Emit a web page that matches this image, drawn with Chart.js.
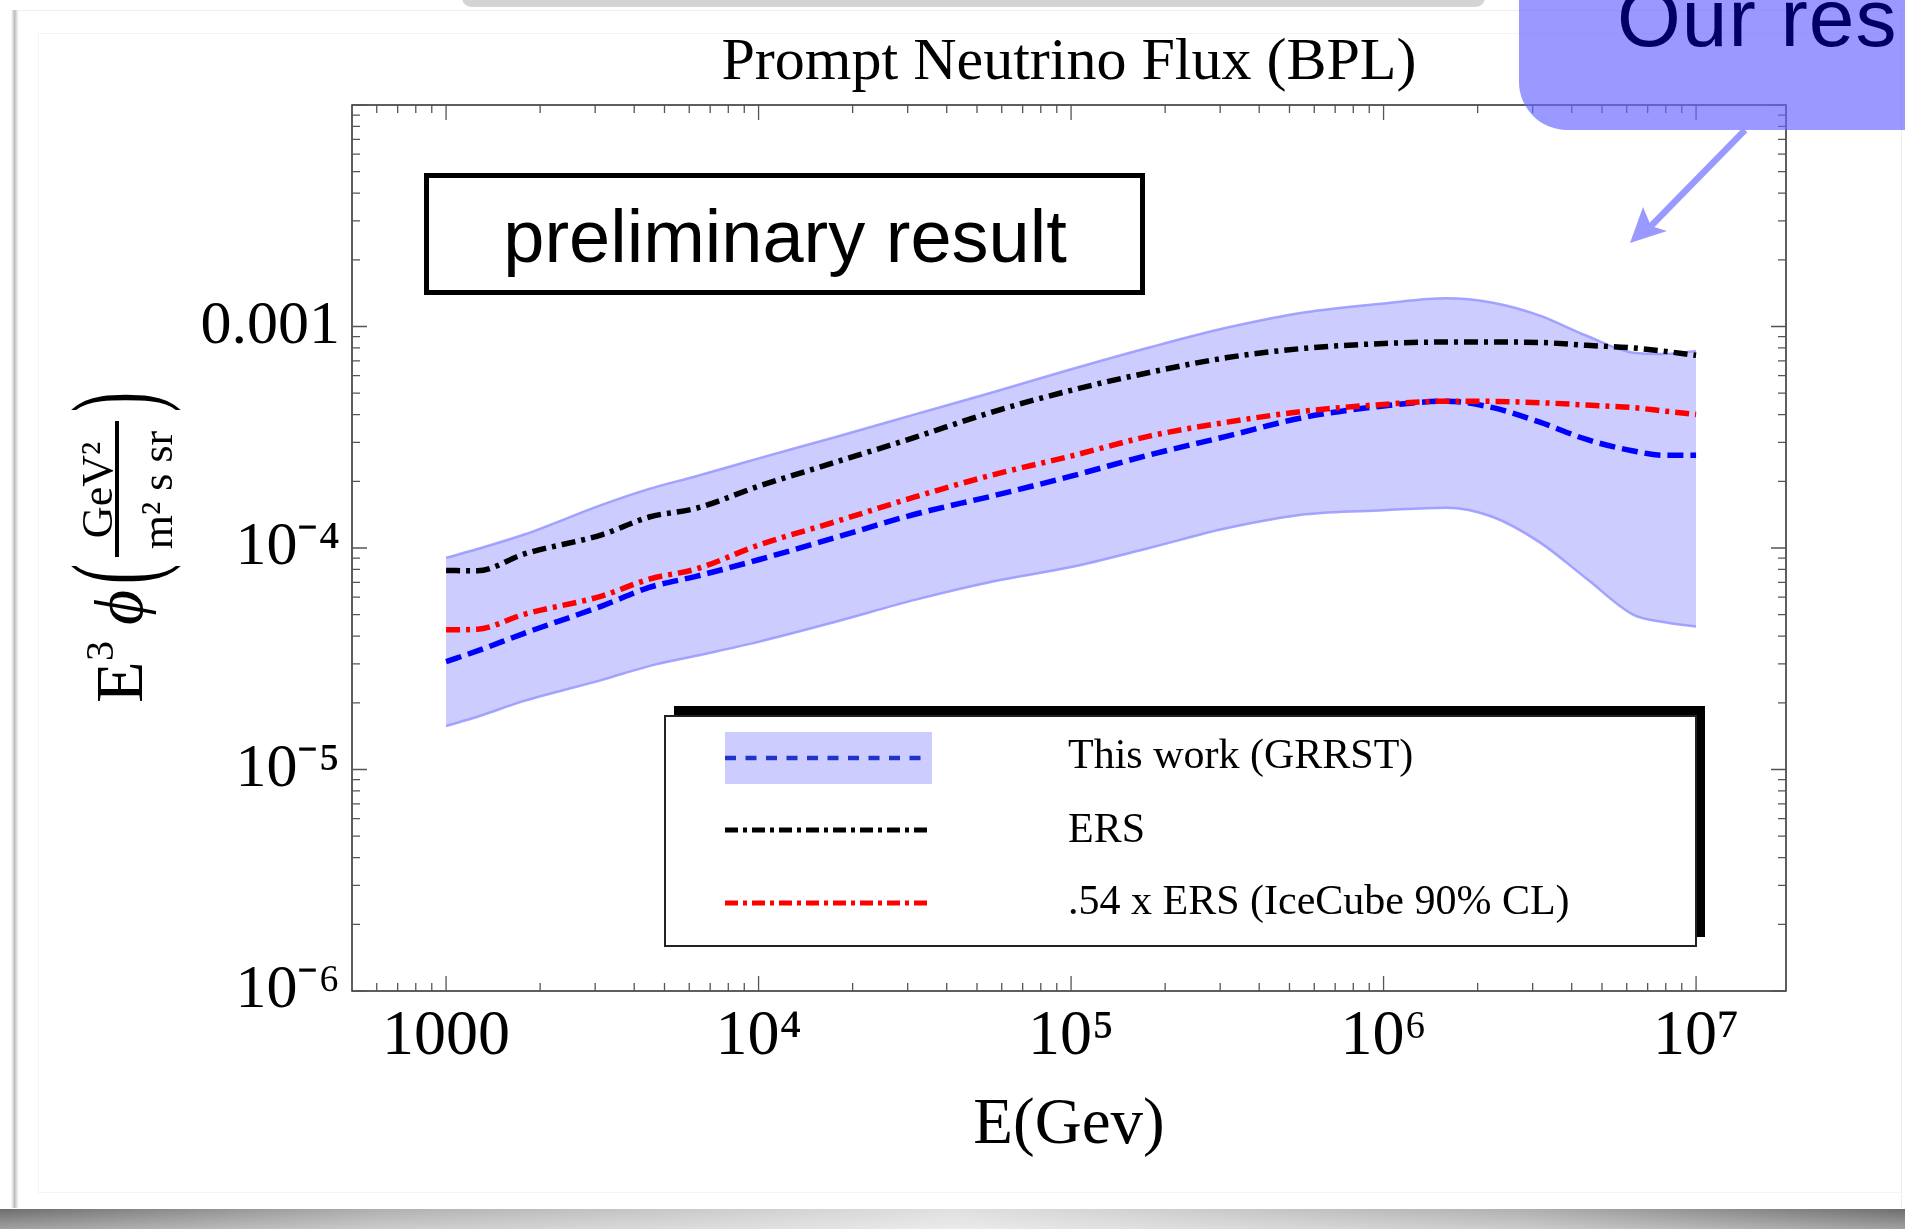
<!DOCTYPE html>
<html>
<head>
<meta charset="utf-8">
<script src="https://cdn.jsdelivr.net/npm/chart.js@4.4.0/dist/chart.umd.min.js"></script>
<style>
html,body{margin:0;padding:0;background:#fff;width:1905px;height:1229px;overflow:hidden;position:relative}
#topbar{position:absolute;left:462px;top:-12px;width:1023px;height:19px;background:#d4d4d4;border-radius:12px}
#cardTop{position:absolute;left:16px;top:10px;width:1889px;height:1px;background:#efefef}
#cardLeft{position:absolute;left:11px;top:10px;width:8px;height:1198px;background:linear-gradient(to right,#ffffff 0%,#bdbdbd 45%,#e6e6e6 75%,#ffffff 100%)}
#cardRight{position:absolute;left:1901px;top:10px;width:1px;height:1198px;background:#eeeeee}
#inner{position:absolute;left:38px;top:33px;width:1864px;height:1158px;border:1px solid #f4f4f4;border-right:none}
#bottomband{position:absolute;left:0;top:1209px;width:1905px;height:20px;
  background:linear-gradient(to bottom,rgba(255,255,255,0) 0%,rgba(255,255,255,0.35) 100%),
             linear-gradient(to right,#6e6e6e 0%,#b0b0b0 20%,#e0e0e0 50%,#b0b0b0 80%,#6e6e6e 100%)}
#wrap{position:absolute;left:0;top:0;width:1905px;height:1229px}
#callout{position:absolute;left:1519px;top:-60px;width:440px;height:190px;background:rgba(102,102,255,0.667);border-radius:48px}
#calloutText{position:absolute;left:1617px;top:-23px;font-family:"Liberation Sans",Arial,sans-serif;font-size:82px;line-height:82px;color:#000066;white-space:nowrap;letter-spacing:1px}
#arrow{position:absolute;left:0;top:0}
</style>
</head>
<body>
<div id="topbar"></div>
<div id="cardTop"></div>
<div id="cardLeft"></div>
<div id="cardRight"></div>
<div id="inner"></div>
<div id="bottomband"></div>
<div id="wrap"><canvas id="c"></canvas></div>
<div id="callout"></div>
<div id="calloutText">Our res</div>
<svg id="arrow" width="1905" height="1229">
  <line x1="1745" y1="130" x2="1651" y2="226" stroke="#9999ff" stroke-width="6.5"/>
  <polygon points="1630,243 1643,207 1651,226 1667,231" fill="#9999ff"/>
</svg>
<script>
// ---- data ----
const energies = [1000, 1259, 1778, 3162, 4467, 6310, 10000, 17783, 31623, 56234, 100000, 177828, 316228, 562341, 1000000, 1584893, 2238721, 3162278, 4466836, 6309573, 7943282, 10000000];
const bandUpper = [9.02e-5, 9.89e-5, 1.15e-4, 1.57e-4, 1.85e-4, 2.11e-4, 2.54e-4, 3.18e-4, 4.01e-4, 5.05e-4, 6.41e-4, 8.04e-4, 9.89e-4, 1.16e-3, 1.27e-3, 1.34e-3, 1.28e-3, 1.12e-3, 9.08e-4, 7.62e-4, 7.52e-4, 7.76e-4];
const bandLower = [1.57e-5, 1.73e-5, 2.04e-5, 2.54e-5, 2.93e-5, 3.26e-5, 3.77e-5, 4.66e-5, 5.83e-5, 7.06e-5, 8.20e-5, 1.00e-4, 1.23e-4, 1.42e-4, 1.48e-4, 1.52e-4, 1.38e-4, 1.06e-4, 7.26e-5, 4.99e-5, 4.62e-5, 4.42e-5];
const grrst = [3.07e-5, 3.43e-5, 4.12e-5, 5.48e-5, 6.64e-5, 7.45e-5, 8.85e-5, 1.12e-4, 1.42e-4, 1.72e-4, 2.11e-4, 2.63e-4, 3.20e-4, 3.90e-4, 4.38e-4, 4.60e-4, 4.30e-4, 3.70e-4, 3.09e-4, 2.74e-4, 2.62e-4, 2.62e-4];
const ers = [7.92e-5, 7.89e-5, 9.40e-5, 1.15e-4, 1.38e-4, 1.51e-4, 1.90e-4, 2.45e-4, 3.16e-4, 4.12e-4, 5.15e-4, 6.20e-4, 7.24e-4, 7.98e-4, 8.38e-4, 8.51e-4, 8.51e-4, 8.47e-4, 8.22e-4, 8.00e-4, 7.73e-4, 7.41e-4];
const ersIceCube = [4.27e-5, 4.30e-5, 5.02e-5, 6.08e-5, 7.24e-5, 8.04e-5, 1.03e-4, 1.32e-4, 1.70e-4, 2.14e-4, 2.60e-4, 3.20e-4, 3.70e-4, 4.15e-4, 4.45e-4, 4.60e-4, 4.59e-4, 4.53e-4, 4.42e-4, 4.30e-4, 4.15e-4, 4.01e-4];

const xTickValues = [1000, 10000, 100000, 1000000, 10000000];
const xTickLabels = ['1000', '10\u2074', '10\u2075', '10\u2076', '10\u2077'];
const yTickValues = [1e-6, 1e-5, 1e-4, 1e-3];
const yTickLabels = ['10\u207B\u2076', '10\u207B\u2075', '10\u207B\u2074', '0.001'];

const legendLabels = ['This work (GRRST)', 'ERS', '.54 x ERS (IceCube 90% CL)'];
const chartTitle = 'Prompt Neutrino Flux (BPL)';
const xTitle = 'E(Gev)';
const noteText = 'preliminary result';

const X_MIN = 500, X_MAX = 1.94e7, Y_MIN = 1e-6, Y_MAX = 1e-2;
const SERIF = '"Liberation Serif", "Times New Roman", serif';
const SANS = '"Liberation Sans", Arial, sans-serif';

const pts = arr => energies.map((e, i) => ({x: e, y: arr[i]}));

function minorTicks(min, max) {
  const out = [];
  for (let d = Math.floor(Math.log10(min)); d <= Math.ceil(Math.log10(max)); d++) {
    for (let m = 1; m <= 9; m++) {
      const v = m * Math.pow(10, d);
      if (v >= min * 0.999 && v <= max * 1.001) out.push({v, major: m === 1});
    }
  }
  return out;
}

const decor = {
  id: 'decor',
  afterDraw(chart) {
    const ctx = chart.ctx;
    const {left, right, top, bottom} = chart.chartArea;
    const xs = chart.scales.x, ys = chart.scales.y;
    ctx.save();
    // frame
    ctx.strokeStyle = '#2a2a2a';
    ctx.lineWidth = 1.5;
    ctx.strokeRect(left, top, right - left, bottom - top);
    // inward ticks
    ctx.strokeStyle = '#555';
    ctx.lineWidth = 1.3;
    ctx.beginPath();
    minorTicks(X_MIN, X_MAX).forEach(t => {
      const px = xs.getPixelForValue(t.v);
      if (px < left + 1 || px > right - 1) return;
      const L = t.major ? 15 : 8;
      ctx.moveTo(px, bottom); ctx.lineTo(px, bottom - L);
      ctx.moveTo(px, top); ctx.lineTo(px, top + L);
    });
    minorTicks(Y_MIN, Y_MAX).forEach(t => {
      const py = ys.getPixelForValue(t.v);
      if (py < top - 1 || py > bottom + 1) return;
      const L = t.major ? 15 : 8;
      ctx.moveTo(left, py); ctx.lineTo(left + L, py);
      ctx.moveTo(right, py); ctx.lineTo(right - L, py);
    });
    ctx.stroke();

    // "preliminary result" box
    ctx.lineWidth = 5;
    ctx.strokeStyle = '#000';
    ctx.strokeRect(426.5, 175.5, 716, 117);
    ctx.fillStyle = '#000';
    ctx.font = '74px ' + SANS;
    ctx.textAlign = 'center';
    ctx.textBaseline = 'alphabetic';
    ctx.fillText(noteText, 785, 262);

    // legend
    ctx.fillStyle = '#000';
    ctx.fillRect(674, 706, 1031, 231);
    ctx.fillStyle = '#fff';
    ctx.fillRect(665, 716, 1031, 230);
    ctx.lineWidth = 2;
    ctx.strokeStyle = '#222';
    ctx.strokeRect(665, 716, 1031, 230);
    ctx.fillStyle = 'rgb(204,204,255)';
    ctx.fillRect(725, 732, 207, 52);
    const legLines = [
      {y: 758, color: '#2233cc', dash: [11, 9.5], w: 4.5},
      {y: 830, color: '#000', dash: [13, 5, 4, 5], w: 5},
      {y: 903, color: '#ff0000', dash: [13, 5, 4, 5], w: 5}
    ];
    legLines.forEach(l => {
      ctx.beginPath();
      ctx.setLineDash(l.dash);
      ctx.lineWidth = l.w;
      ctx.strokeStyle = l.color;
      ctx.moveTo(725, l.y); ctx.lineTo(929, l.y);
      ctx.stroke();
    });
    ctx.setLineDash([]);
    ctx.fillStyle = '#000';
    ctx.font = '42px ' + SERIF;
    ctx.textAlign = 'left';
    ctx.fillText(legendLabels[0], 1068, 768);
    ctx.fillText(legendLabels[1], 1068, 842);
    ctx.fillText(legendLabels[2], 1068, 914);

    // rotated y-axis title: E^3 phi (GeV^2 / m^2 s sr)
    ctx.translate(0, 705);
    ctx.rotate(-Math.PI / 2);
    ctx.fillStyle = '#000';
    ctx.textAlign = 'left';
    ctx.textBaseline = 'alphabetic';
    ctx.font = '68px ' + SERIF;
    ctx.fillText('E', 2, 142);
    ctx.font = '40px ' + SERIF;
    ctx.fillText('3', 44, 113);
    ctx.font = 'italic 68px ' + SERIF;
    ctx.fillText('\u03D5', 80, 142);
    ctx.font = '60px ' + SERIF;
    ctx.textAlign = 'center';
    ctx.save(); ctx.translate(131, 125); ctx.scale(1, 2.0); ctx.fillText('(', 0, 15); ctx.restore();
    ctx.save(); ctx.translate(303, 125); ctx.scale(1, 2.0); ctx.fillText(')', 0, 15); ctx.restore();
    ctx.fillRect(148, 115, 136, 4);
    ctx.font = '44px ' + SERIF;
    ctx.fillText('GeV\u00B2', 215, 112);
    ctx.fillText('m\u00B2 s sr', 215, 172);
    ctx.restore();
  }
};

Chart.defaults.font.family = SERIF;

new Chart(document.getElementById('c'), {
  type: 'line',
  data: {
    datasets: [
      {label: 'band upper', data: pts(bandUpper), borderColor: 'rgba(150,150,255,0.85)', borderWidth: 2.5,
       backgroundColor: 'rgb(204,204,255)', fill: '+1', pointRadius: 0, cubicInterpolationMode: 'monotone', order: 10},
      {label: 'band lower', data: pts(bandLower), borderColor: 'rgba(150,150,255,0.85)', borderWidth: 2.5,
       fill: false, pointRadius: 0, cubicInterpolationMode: 'monotone', order: 9},
      {label: legendLabels[0], data: pts(grrst), borderColor: '#0000ff', borderWidth: 5.5, borderDash: [16, 7],
       fill: false, pointRadius: 0, cubicInterpolationMode: 'monotone', order: 3},
      {label: legendLabels[2], data: pts(ersIceCube), borderColor: '#ff0000', borderWidth: 5.5, borderDash: [14, 6, 4, 6],
       fill: false, pointRadius: 0, cubicInterpolationMode: 'monotone', order: 2},
      {label: legendLabels[1], data: pts(ers), borderColor: '#000000', borderWidth: 5.5, borderDash: [14, 6, 4, 6],
       fill: false, pointRadius: 0, cubicInterpolationMode: 'monotone', order: 1}
    ]
  },
  options: {
    responsive: true,
    maintainAspectRatio: false,
    animation: false,
    events: [],
    layout: {padding: {left: 0, right: 119, top: 0, bottom: 0}},
    plugins: {
      legend: {display: false},
      tooltip: {enabled: false},
      title: {display: true, text: chartTitle, color: '#000', fullSize: false,
              font: {family: SERIF, size: 60, weight: 'normal'}, padding: {top: 27, bottom: 6}}
    },
    scales: {
      x: {
        type: 'logarithmic', position: 'bottom', min: X_MIN, max: X_MAX,
        grid: {display: false, drawTicks: false},
        border: {display: false},
        afterBuildTicks: s => { s.ticks = xTickValues.map(v => ({value: v})); },
        afterFit: s => { s.height = 238; },
        ticks: {
          autoSkip: false, maxRotation: 0, minRotation: 0, padding: 8, color: '#000',
          font: {family: SERIF, size: 64},
          callback: v => { const i = xTickValues.indexOf(v); return i >= 0 ? xTickLabels[i] : ''; }
        },
        title: {display: true, text: xTitle, color: '#000', font: {family: SERIF, size: 65}, padding: {top: 0, bottom: 64}}
      },
      y: {
        type: 'logarithmic', position: 'left', min: Y_MIN, max: Y_MAX,
        grid: {display: false, drawTicks: false},
        border: {display: false},
        afterBuildTicks: s => { s.ticks = yTickValues.map(v => ({value: v})); },
        afterFit: s => { s.width = 352; },
        ticks: {
          autoSkip: false, padding: 12, color: '#000',
          font: {family: SERIF, size: 62},
          callback: v => { const i = yTickValues.findIndex(t => Math.abs(t - v) / t < 1e-6); return i >= 0 ? yTickLabels[i] : ''; }
        }
      }
    }
  },
  plugins: [decor]
});
</script>
</body>
</html>
